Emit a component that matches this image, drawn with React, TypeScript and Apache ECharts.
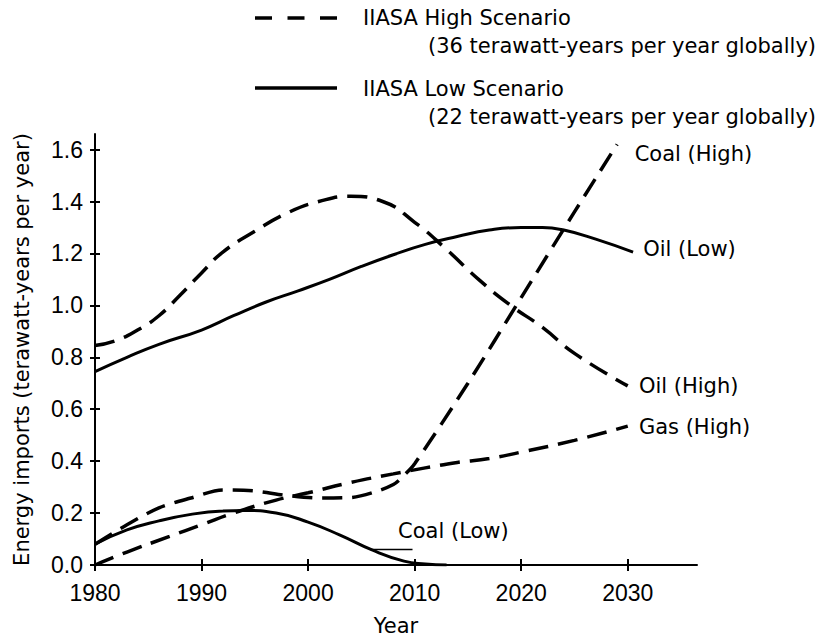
import React, { useEffect, useRef } from "react";
import * as echarts from "echarts";

// ---- Axis ticks ----
const yearTicks = [1980, 1990, 2000, 2010, 2020, 2030];
const valueTicks = [0, 0.2, 0.4, 0.6, 0.8, 1.0, 1.2, 1.4, 1.6];

// ---- Series data ----
const oilHighYears = [1980, 1982, 1984, 1986, 1988, 1990, 1992, 1995, 1998, 2001, 2004, 2007, 2010, 2013, 2016, 2019, 2022, 2025, 2030];
const oilHighValues = [0.845, 0.865, 0.905, 0.96, 1.04, 1.125, 1.205, 1.285, 1.355, 1.4, 1.42, 1.4, 1.32, 1.215, 1.1, 1.0, 0.915, 0.815, 0.69];

const oilLowYears = [1980, 1983, 1986, 1990, 1993, 1996, 1999, 2002, 2005, 2008, 2011, 2014, 2017, 2020, 2022, 2024, 2027, 2030.5];
const oilLowValues = [0.745, 0.8, 0.85, 0.905, 0.96, 1.012, 1.055, 1.1, 1.15, 1.195, 1.235, 1.265, 1.29, 1.3, 1.3, 1.29, 1.255, 1.205];

const coalHighYears = [1980, 1983, 1986, 1989, 1992, 1995, 1998, 2001, 2004, 2006, 2008, 2009, 2010, 2015, 2020, 2025, 2029];
const coalHighValues = [0.08, 0.155, 0.22, 0.258, 0.289, 0.285, 0.268, 0.258, 0.26, 0.278, 0.31, 0.345, 0.39, 0.7, 1.03, 1.36, 1.62];

const gasHighYears = [1980, 1983, 1987, 1990, 1993, 1997, 2000, 2004, 2008, 2011, 2014, 2017, 2020, 2025, 2030];
const gasHighValues = [0.0, 0.05, 0.11, 0.155, 0.2, 0.25, 0.278, 0.318, 0.351, 0.374, 0.395, 0.41, 0.435, 0.48, 0.535];

const coalLowYears = [1980, 1983, 1986, 1989, 1992, 1994, 1997, 2000, 2003, 2006, 2009, 2011, 2013];
const coalLowValues = [0.08, 0.135, 0.17, 0.195, 0.208, 0.21, 0.2, 0.165, 0.115, 0.058, 0.015, 0.004, 0.0];

const coalLowLeaderYears = [2005.8, 2009.8];
const coalLowLeaderValues = [0.06, 0.06];

// ---- Curve labels ----
const labelNames = ["Coal (High)", "Oil (Low)", "Oil (High)", "Gas (High)", "Coal (Low)"];
const labelYears = [2030.6, 2031.4, 2031.0, 2031.0, 2008.4];
const labelValues = [1.584, 1.218, 0.691, 0.531, 0.13];

// ---- Legend ----
const legendTitles = ["IIASA High Scenario", "IIASA Low Scenario"];
const legendSubtitles = ["(36 terawatt-years per year globally)", "(22 terawatt-years per year globally)"];

const TEXT_FONT = "DejaVu Sans";
const TICK_FONT = "Liberation Sans";

const zip = (xs: number[], ys: number[]) => xs.map((x, i) => [x, ys[i]]);

const dashed = { color: "#000", width: 3.5, type: [20, 10] as number[], cap: "butt" as const };
const solid = { color: "#000", width: 3, type: "solid" as const };

function lineSeries(name: string, data: number[][], lineStyle: any, smooth: number | boolean = 0.5) {
  return {
    name,
    type: "line",
    data,
    smooth,
    showSymbol: false,
    symbol: "none",
    lineStyle,
    silent: true,
    xAxisIndex: 0,
    yAxisIndex: 0,
    z: 3,
  };
}

function buildOption() {
  const axisLineStyle = { color: "#000", width: 2 };
  return {
    animation: false,
    backgroundColor: "#fff",
    grid: { left: 95, right: 129, top: 134, bottom: 72, containLabel: false },
    xAxis: [
      {
        type: "value",
        min: 1980,
        max: 2036.5,
        position: "bottom",
        axisLine: { show: true, lineStyle: axisLineStyle },
        axisTick: { show: true, length: 6, lineStyle: { color: "#000", width: 2 }, customValues: yearTicks },
        axisLabel: {
          customValues: yearTicks,
          color: "#000",
          fontSize: 23,
          fontFamily: TICK_FONT,
          margin: 16,
          formatter: (v: number) => String(v),
        },
        splitLine: { show: false },
        name: "Year",
        nameLocation: "middle",
        nameGap: 50,
        nameTextStyle: { color: "#000", fontSize: 21, fontFamily: TEXT_FONT },
      },
      {
        type: "value",
        min: 1980,
        max: 2036.5,
        position: "bottom",
        offset: 0,
        axisLine: { show: false },
        axisTick: { show: true, inside: true, length: 6, lineStyle: { color: "#000", width: 2 }, customValues: yearTicks },
        axisLabel: { show: false },
        splitLine: { show: false },
      },
    ],
    yAxis: [
      {
        type: "value",
        min: 0,
        max: 1.66,
        position: "left",
        axisLine: { show: true, lineStyle: axisLineStyle },
        axisTick: { show: true, length: 5, lineStyle: { color: "#000", width: 2 }, customValues: valueTicks },
        axisLabel: {
          customValues: valueTicks,
          color: "#000",
          fontSize: 23,
          fontFamily: TICK_FONT,
          margin: 12,
          formatter: (v: number) => v.toFixed(1),
        },
        splitLine: { show: false },
        name: "Energy imports (terawatt-years per year)",
        nameLocation: "middle",
        nameGap: 63,
        nameTextStyle: { color: "#000", fontSize: 21, fontFamily: TEXT_FONT },
      },
      {
        type: "value",
        min: 0,
        max: 1.66,
        position: "left",
        offset: 0,
        axisLine: { show: false },
        axisTick: { show: true, inside: true, length: 5, lineStyle: { color: "#000", width: 2 }, customValues: valueTicks },
        axisLabel: { show: false },
        splitLine: { show: false },
      },
    ],
    series: [
      lineSeries("Oil (High)", zip(oilHighYears, oilHighValues), dashed),
      lineSeries("Oil (Low)", zip(oilLowYears, oilLowValues), solid),
      lineSeries("Coal (High)", zip(coalHighYears, coalHighValues), dashed, 0.3),
      lineSeries("Gas (High)", zip(gasHighYears, gasHighValues), dashed),
      lineSeries("Coal (Low)", zip(coalLowYears, coalLowValues), solid),
      lineSeries("Coal (Low) leader", zip(coalLowLeaderYears, coalLowLeaderValues), { color: "#000", width: 1.5 }, false),
      {
        name: "labels",
        type: "scatter",
        silent: true,
        symbolSize: 1,
        itemStyle: { color: "rgba(0,0,0,0)" },
        data: labelNames.map((n, i) => ({ name: n, value: [labelYears[i], labelValues[i]] })),
        label: {
          show: true,
          position: "right",
          distance: 0,
          formatter: "{b}",
          color: "#000",
          opacity: 1,
          fontSize: 21,
          fontFamily: TEXT_FONT,
        },
        xAxisIndex: 0,
        yAxisIndex: 0,
        z: 5,
      },
    ],
    graphic: [
      {
        type: "line",
        shape: { x1: 255, y1: 18, x2: 337, y2: 18 },
        style: { stroke: "#000", lineWidth: 3.5, lineDash: [17, 15.5] },
      },
      {
        type: "line",
        shape: { x1: 255, y1: 88, x2: 337, y2: 88 },
        style: { stroke: "#000", lineWidth: 3.5 },
      },
      {
        type: "text",
        x: 363,
        y: 18,
        style: { text: legendTitles[0], fontSize: 21, fontFamily: TEXT_FONT, fill: "#000", verticalAlign: "middle" },
      },
      {
        type: "text",
        x: 428,
        y: 46,
        style: { text: legendSubtitles[0], fontSize: 21, fontFamily: TEXT_FONT, fill: "#000", verticalAlign: "middle" },
      },
      {
        type: "text",
        x: 363,
        y: 89,
        style: { text: legendTitles[1], fontSize: 21, fontFamily: TEXT_FONT, fill: "#000", verticalAlign: "middle" },
      },
      {
        type: "text",
        x: 428,
        y: 117,
        style: { text: legendSubtitles[1], fontSize: 21, fontFamily: TEXT_FONT, fill: "#000", verticalAlign: "middle" },
      },
    ],
  };
}

export default function App() {
  const ref = useRef<HTMLDivElement>(null);
  useEffect(() => {
    if (!ref.current) return;
    const chart = echarts.init(ref.current, null, { renderer: "svg" });
    chart.setOption(buildOption() as any);
    return () => chart.dispose();
  }, []);
  return (
    <div
      ref={ref}
      style={{ position: "absolute", left: 0, top: 0, width: 826, height: 641, background: "#fff" }}
    />
  );
}
